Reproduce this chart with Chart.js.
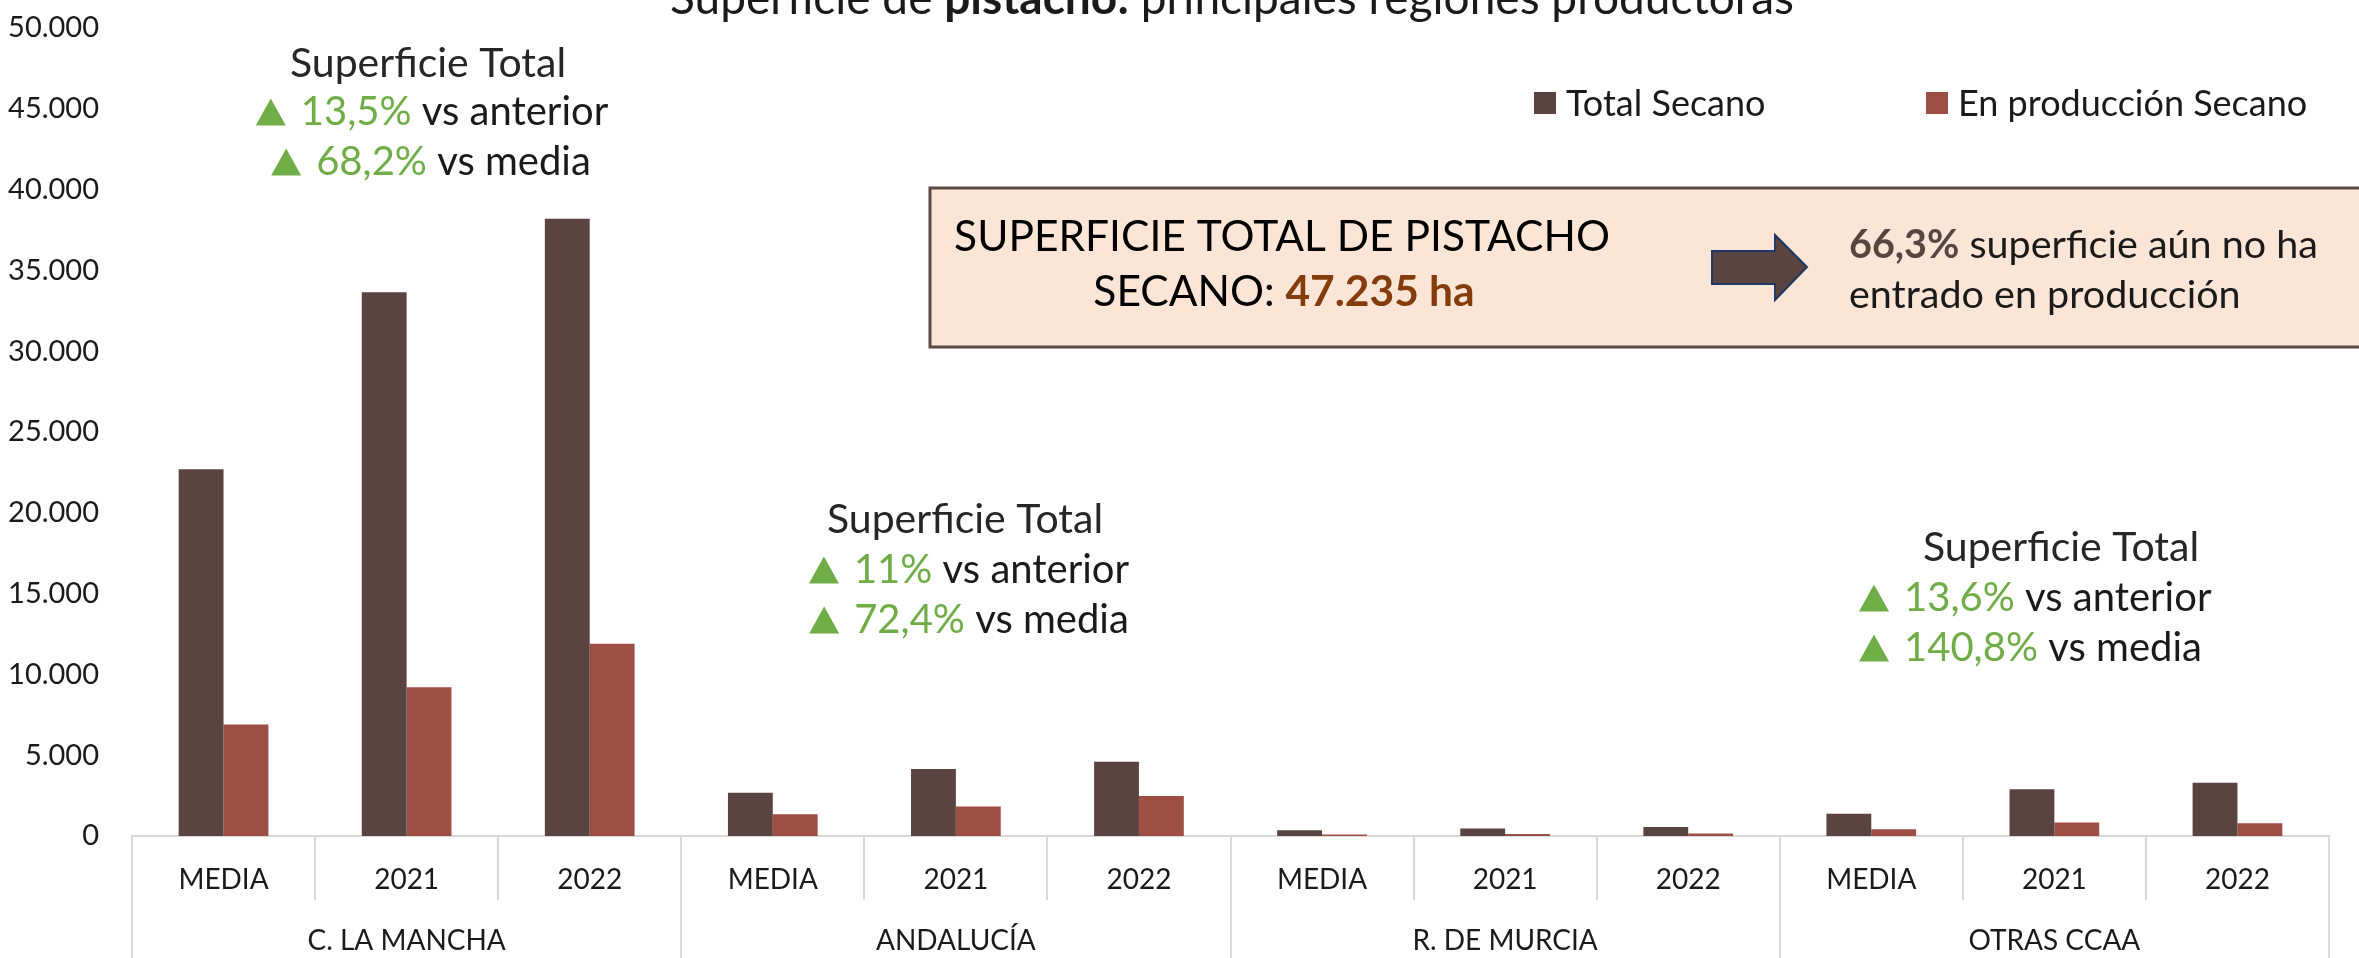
<!DOCTYPE html>
<html lang="es">
<head>
<meta charset="UTF-8">
<title>Superficie de pistacho: principales regiones productoras</title>
<script src="https://cdn.jsdelivr.net/npm/chart.js"></script>
<style>
  html, body { margin: 0; padding: 0; background: #fff; overflow: hidden; }
  #wrap { width: 2359px; height: 958px; }
</style>
</head>
<body>
<div id="wrap"><canvas id="chart" width="2359" height="958"></canvas></div>
<script>
// superficie de pistacho en secano (ha)
const regions = ['C. LA MANCHA', 'ANDALUCÍA', 'R. DE MURCIA', 'OTRAS CCAA'];
const periods = ['MEDIA', '2021', '2022', 'MEDIA', '2021', '2022', 'MEDIA', '2021', '2022', 'MEDIA', '2021', '2022'];
const totalSecano = [22700, 33650, 38200, 2670, 4150, 4600, 350, 470, 550, 1370, 2900, 3300];
const produccionSecano = [6900, 9200, 11900, 1350, 1820, 2480, 100, 120, 160, 410, 840, 790];
const yMax = 50000;
const yStep = 5000;

const seriesNames = ['Total Secano', 'En producción Secano'];
const seriesColors = ['#5A4441', '#9E4F45'];

// variaciones de superficie total por bloque
const vsAnterior = ['13,5%', '11%', '13,6%'];
const vsMedia = ['68,2%', '72,4%', '140,8%'];

const FONT = 'Lato, "Open Sans", sans-serif';
const GREEN = '#70AD47';
const INK = '#1a1a1a';

function font(size, bold) {
  return (bold ? 'bold ' : '') + size + 'px ' + FONT;
}

function thousands(v) {
  return String(v).replace(/\B(?=(\d{3})+(?!\d))/g, '.');
}

// text made of several pieces (different colour / weight), plus optional triangle
function richWidth(ctx, segs) {
  let w = 0;
  segs.forEach(s => {
    if (s.tri) { w += s.tri; return; }
    ctx.font = s.font;
    w += ctx.measureText(s.text).width;
  });
  return w;
}

function drawRich(ctx, segs, x, yMid, align, capSize) {
  const w = richWidth(ctx, segs);
  let cx = align === 'center' ? x - w / 2 : (align === 'right' ? x - w : x);
  const base = yMid + capSize * 0.36;
  ctx.textAlign = 'left';
  ctx.textBaseline = 'alphabetic';
  segs.forEach(s => {
    if (s.tri) {
      const tw = s.tri - 15, th = 27;
      ctx.fillStyle = GREEN;
      ctx.beginPath();
      ctx.moveTo(cx, base);
      ctx.lineTo(cx + tw, base);
      ctx.lineTo(cx + tw / 2, base - th);
      ctx.closePath();
      ctx.fill();
      cx += s.tri;
      return;
    }
    ctx.font = s.font;
    ctx.fillStyle = s.color;
    ctx.fillText(s.text, cx, base);
    cx += ctx.measureText(s.text).width;
  });
}

function noteBlock(ctx, i, l1, l2, l3) {
  const sz = 40;
  drawRich(ctx, [{ text: 'Superficie Total', font: font(41), color: '#262626' }], l1[0], l1[1], 'center', 41);
  drawRich(ctx, [
    { tri: 45 },
    { text: vsAnterior[i], font: font(sz), color: GREEN },
    { text: ' vs anterior', font: font(sz), color: INK }
  ], l2[0], l2[1], l2[2], sz);
  drawRich(ctx, [
    { tri: 45 },
    { text: vsMedia[i], font: font(sz), color: GREEN },
    { text: ' vs media', font: font(sz), color: INK }
  ], l3[0], l3[1], l3[2], sz);
}

const annotations = {
  id: 'annotations',
  afterDraw(chart) {
    const ctx = chart.ctx;
    ctx.save();

    // title (cut at the top edge, as in the source)
    const tSize = 46;
    const title = [
      { text: 'Superficie de ', font: font(tSize), color: INK },
      { text: 'pistacho:', font: font(tSize, true), color: INK },
      { text: ' principales regiones productoras', font: font(tSize), color: INK }
    ];
    const tw = richWidth(ctx, title);
    let tx = 1232 - tw / 2;
    ctx.textBaseline = 'alphabetic';
    title.forEach(s => {
      ctx.font = s.font; ctx.fillStyle = s.color;
      ctx.fillText(s.text, tx, 14);
      tx += ctx.measureText(s.text).width;
    });

    // legend
    const legendX = [1534, 1926];
    chart.data.datasets.forEach((ds, k) => {
      ctx.fillStyle = ds.backgroundColor;
      ctx.fillRect(legendX[k], 92, 22, 22);
      drawRich(ctx, [{ text: ds.label, font: font(36), color: INK }], legendX[k] + 32, 103, 'left', 36);
    });

    // summary box
    ctx.fillStyle = '#FBE5D6';
    ctx.fillRect(930, 188, 1500, 159);
    ctx.strokeStyle = '#5B4B48';
    ctx.lineWidth = 3;
    ctx.strokeRect(930, 188, 1500, 159);

    drawRich(ctx, [{ text: 'SUPERFICIE TOTAL DE PISTACHO', font: font(42.5), color: '#000' }], 1282, 236, 'center', 42.5);
    drawRich(ctx, [
      { text: 'SECANO: ', font: font(42.5), color: '#000' },
      { text: '47.235 ha', font: font(42.5, true), color: '#843C0C' }
    ], 1284, 291, 'center', 42.5);

    // arrow
    ctx.beginPath();
    ctx.moveTo(1712, 251);
    ctx.lineTo(1775, 251);
    ctx.lineTo(1775, 235);
    ctx.lineTo(1807, 267);
    ctx.lineTo(1775, 300);
    ctx.lineTo(1775, 284);
    ctx.lineTo(1712, 284);
    ctx.closePath();
    ctx.fillStyle = '#5A4441';
    ctx.fill();
    ctx.strokeStyle = '#203864';
    ctx.lineWidth = 2;
    ctx.stroke();

    drawRich(ctx, [
      { text: '66,3%', font: font(39.5, true), color: '#5A4441' },
      { text: ' superficie aún no ha', font: font(39.5), color: INK }
    ], 1849, 244, 'left', 39.5);
    drawRich(ctx, [{ text: 'entrado en producción', font: font(39.5), color: INK }], 1849, 294, 'left', 39.5);

    // notes above region groups
    noteBlock(ctx, 0, [428, 62], [432, 111, 'center'], [431, 161, 'center']);
    noteBlock(ctx, 1, [965, 518], [969, 569, 'center'], [969, 619, 'center']);
    noteBlock(ctx, 2, [2061, 546], [1859, 597, 'left'], [1859, 647, 'left']);

    ctx.restore();
  }
};

const xTickFont = { family: FONT, size: 28 };
const yTickFont = { family: FONT, size: 29 };

new Chart(document.getElementById('chart'), {
  type: 'bar',
  data: {
    labels: periods,
    datasets: [
      { label: seriesNames[0], data: totalSecano, backgroundColor: seriesColors[0] },
      { label: seriesNames[1], data: produccionSecano, backgroundColor: seriesColors[1] }
    ]
  },
  options: {
    responsive: false,
    animation: false,
    devicePixelRatio: 1,
    layout: { padding: { top: 28, right: 30, left: 0, bottom: 0 } },
    datasets: { bar: { barPercentage: 1.0, categoryPercentage: 0.49 } },
    plugins: {
      legend: { display: false },
      tooltip: { enabled: false }
    },
    scales: {
      x: {
        grid: { offset: true, drawOnChartArea: false, tickLength: 64, color: '#d9d9d9', lineWidth: 2 },
        border: { color: '#d9d9d9', width: 2 },
        ticks: { font: xTickFont, color: INK, padding: -37, maxRotation: 0, autoSkip: false },
        afterFit: s => { s.height = 64; }
      },
      x2: {
        type: 'category',
        labels: regions,
        position: 'bottom',
        offset: true,
        weight: 1,
        grid: { offset: true, drawOnChartArea: false, tickLength: 58, color: '#d9d9d9', lineWidth: 2 },
        border: { display: false },
        ticks: { font: xTickFont, color: INK, padding: -34, maxRotation: 0, autoSkip: false },
        afterFit: s => { s.height = 58; }
      },
      y: {
        min: 0,
        max: yMax,
        // grid hidden; tickLength only keeps the labels away from the axis
        grid: { display: false, drawTicks: true, tickLength: 33 },
        border: { display: false },
        ticks: { stepSize: yStep, padding: 0, font: yTickFont, color: INK, callback: v => thousands(v) },
        afterFit: s => { s.width = 132; }
      }
    }
  },
  plugins: [annotations]
});
</script>
</body>
</html>
